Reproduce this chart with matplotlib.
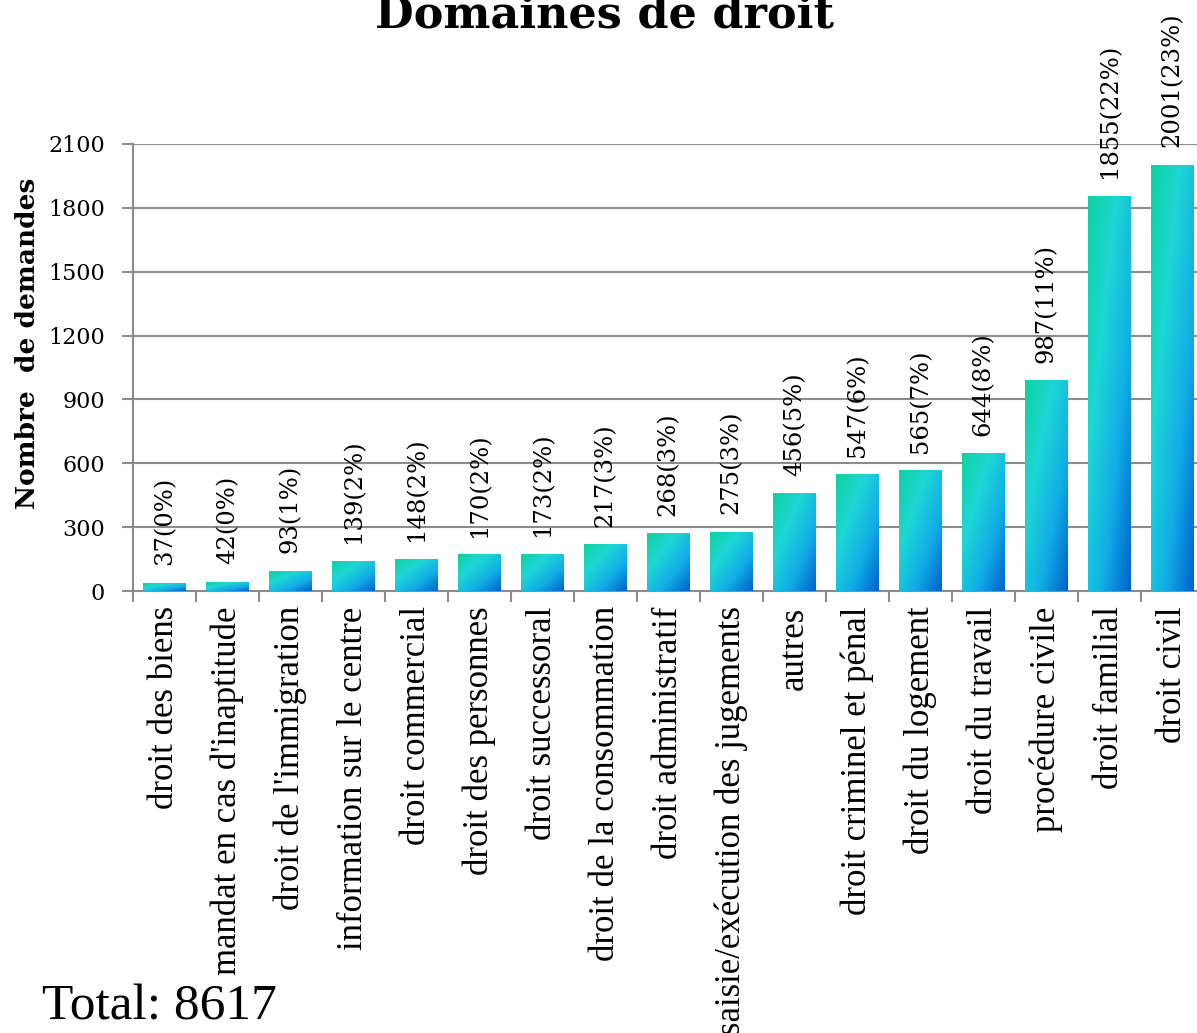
import numpy as np
import matplotlib
matplotlib.use("Agg")
import matplotlib.pyplot as plt
from matplotlib.colors import LinearSegmentedColormap

# données
categories = ["droit des biens", "mandat en cas d'inaptitude", "droit de l'immigration",
              "information sur le centre", "droit commercial", "droit des personnes",
              "droit successoral", "droit de la consommation", "droit administratif",
              "saisie/exécution des jugements", "autres", "droit criminel et pénal",
              "droit du logement", "droit du travail", "procédure civile",
              "droit familial", "droit civil"]
values = [37, 42, 93, 139, 148, 170, 173, 217, 268, 275, 456, 547, 565, 644, 987, 1855, 2001]
percents = [0, 0, 1, 2, 2, 2, 2, 3, 3, 3, 5, 6, 7, 8, 11, 22, 23]
total = 8617
yticks = [0, 300, 600, 900, 1200, 1500, 1800, 2100]

GRID = "#8c8c8c"
grad_cmap = LinearSegmentedColormap.from_list(
    "bar", ["#0dd2a2", "#1ed6d4", "#12aee6", "#0062cc"])


def gradient_image(n=64):
    # diagonale haut-gauche -> bas-droite, en coordonnées relatives de la barre
    u = np.linspace(0, 1, n)
    v = np.linspace(1, 0, n)
    U, V = np.meshgrid(u, v)
    return (U + (1 - V)) / 2


def main():
    fig = plt.figure(figsize=(11.97, 10.33), dpi=100)
    ax = fig.add_axes([133 / 1197, 1 - 591 / 1033, 1071 / 1197, 447 / 1033])

    x = np.arange(len(categories))
    bars = ax.bar(x, values, width=0.68, facecolor="none", edgecolor="none", zorder=3)
    img = gradient_image()
    for b in bars:
        x0, w, h = b.get_x(), b.get_width(), b.get_height()
        ax.imshow(img, cmap=grad_cmap, vmin=0, vmax=1, aspect="auto",
                  extent=[x0, x0 + w, 0, h], origin="upper", zorder=3,
                  interpolation="bilinear")

    for xi, v, p in zip(x, values, percents):
        ax.annotate(f"{v}({p}%)", (xi, v), xytext=(0, 13), textcoords="offset points",
                    rotation=90, ha="center", va="bottom", fontsize=17.5,
                    family="DejaVu Serif", annotation_clip=False)

    ax.set_xlim(-0.5, len(categories) - 0.5)
    ax.set_ylim(0, 2100)
    ax.set_yticks(yticks)
    ax.set_yticklabels([str(t) for t in yticks], family="DejaVu Serif", fontsize=16)
    ax.set_xticks(x)
    ax.set_xticklabels(categories, rotation=90, va="top", ha="center",
                       family="Liberation Serif", fontsize=25)
    ax.set_xticks(np.arange(len(categories) + 1) - 0.5, minor=True)
    ax.tick_params(axis="x", which="major", length=0, pad=11)
    ax.tick_params(axis="x", which="minor", length=8, width=1.5, color=GRID)
    ax.tick_params(axis="y", length=8, width=1.5, color=GRID, pad=12)

    ax.grid(axis="y", color=GRID, linewidth=1.5, zorder=0)
    ax.set_axisbelow(True)
    for s in ["top", "right"]:
        ax.spines[s].set_visible(False)
    for s in ["left", "bottom"]:
        ax.spines[s].set_color(GRID)
        ax.spines[s].set_linewidth(1.5)

    ax.set_ylabel("Nombre  de demandes", family="DejaVu Serif", fontweight="bold",
                  fontsize=19, labelpad=6)
    ax.yaxis.label.set_y(0.553)

    fig.text(0.505, 1 - 27 / 1033, "Domaines de droit", ha="center", va="baseline",
             family="DejaVu Serif", fontweight="bold", fontsize=32)
    fig.text(42 / 1197, 1 - 1020 / 1033, f"Total: {total}", ha="left", va="baseline",
             family="Liberation Serif", fontsize=37)

    fig.savefig("out.png", dpi=100)


if __name__ == "__main__":
    main()
